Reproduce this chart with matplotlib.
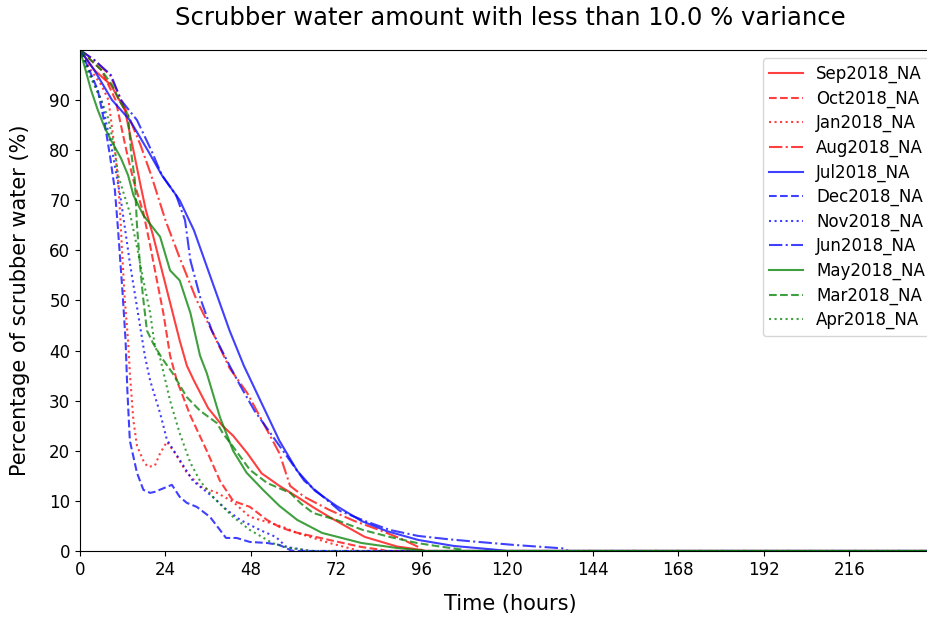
import numpy as np
import matplotlib
matplotlib.use("Agg")
import matplotlib.pyplot as plt

# Hours elapsed and percent of scrubber water still above the variance limit
t_sep = [0, 4, 8.7, 12.6, 15, 17, 18.5, 20.5, 23, 25.5, 28, 30, 32, 36, 40, 43, 47, 51, 56, 61, 66, 70, 75, 80, 89, 96, 97]
p_sep = [100, 96, 93, 88, 80, 73, 68, 63, 56, 49, 42, 37, 34, 28.5, 25, 23, 19.5, 15.5, 13, 10.8, 8.5, 6.8, 4.8, 2.8, 0.9, 0.2, 0]

t_oct = [0, 3, 6, 10, 13, 15, 17.8, 19.7, 21.6, 23.4, 25.3, 27.2, 31, 35.6, 39.3, 43, 47.7, 52.5, 56, 60, 70, 79, 85, 86]
p_oct = [100, 98, 96, 90, 80, 74, 67.5, 61, 54, 47.5, 39, 34, 27, 20, 14, 10, 8.8, 6.2, 4.8, 3.8, 2.2, 0.8, 0.2, 0]

t_jan = [0, 3, 6, 8, 9.8, 10.7, 11.3, 11.8, 12.6, 13.5, 14, 15, 16, 17.8, 19, 21, 22.5, 24.4, 26.7, 30, 34, 38.5, 43, 47.7, 52.5, 57, 61, 70, 77, 78]
p_jan = [100, 96, 93, 90, 80, 74, 67, 60, 50, 42, 35.5, 26, 21, 18, 16.8, 17, 19.5, 21.8, 19.5, 15.6, 12.8, 11.6, 9.8, 6.8, 5.8, 4.8, 3.6, 1.6, 0.3, 0]

t_aug = [0, 4, 8.4, 13.5, 17, 20, 24, 28, 32.8, 37, 42, 47, 50, 53, 56, 59, 63, 70, 77, 84, 90, 95, 96]
p_aug = [100, 98, 95, 87, 81, 75, 66, 58.5, 50, 44, 36.5, 31.5, 27.5, 23.5, 19.5, 13, 10.8, 8.2, 6, 4.2, 2.5, 0.8, 0]

t_jul = [0, 4, 9, 14, 19, 23, 28, 32, 35, 38, 42, 46, 50, 56, 61, 66, 72, 79, 86, 95, 105, 116, 120]
p_jul = [100, 96, 90, 86, 80, 75, 70, 64, 58, 52, 44, 37, 31, 22, 16, 12, 9, 6, 4, 2.2, 1, 0.3, 0]

t_dec = [0, 2, 5, 7, 8.4, 9.8, 10.7, 12, 12.8, 13.3, 14, 16, 17.8, 19.7, 21, 24.4, 25.8, 28, 30, 32.8, 36.5, 39.3, 41, 44, 47.7, 52.5, 56, 59, 60]
p_dec = [100, 97, 92, 85, 79, 72, 64, 51, 42, 32, 22, 15.6, 12.2, 11.6, 11.8, 12.8, 13.2, 10.8, 9.6, 8.8, 6.8, 4.2, 2.6, 2.6, 1.8, 1.6, 1.2, 0.2, 0]

t_nov = [0, 3, 6, 9, 11.5, 12, 14, 16, 18.2, 19.7, 22.5, 24.4, 28, 31.7, 37.3, 41.2, 45, 50.5, 55, 58, 63, 65]
p_nov = [100, 95, 90, 80, 70, 67.5, 57.5, 48.7, 39, 34, 27.5, 22.2, 18.2, 14, 10.8, 8.2, 6.2, 4.2, 2.8, 0.8, 0.2, 0]

t_jun = [0, 4, 8.7, 11.5, 16, 20, 23, 27, 29.5, 31, 34, 37, 42, 45, 49, 53, 58, 63, 68, 73, 80, 87, 95, 104, 112, 122, 130, 136, 137]
p_jun = [100, 98, 95, 90, 86, 80, 75, 71, 66, 58, 50, 44, 37, 33, 28, 24, 19, 14, 11, 8, 6, 4.2, 3, 2.3, 1.8, 1.2, 0.8, 0.5, 0]

t_may = [0, 1.4, 3.1, 5, 7, 8.7, 11.5, 13.5, 15, 17.8, 22.5, 25.3, 28, 31, 33.7, 35.6, 39.3, 43, 46.8, 51.4, 56, 61, 68, 79, 89, 96, 97]
p_may = [100, 96.4, 92, 88, 84.4, 82, 78.4, 75, 71, 67, 62.7, 56, 54, 47.5, 39, 35.5, 26.7, 20, 15.6, 12.2, 9, 6.2, 3.6, 1.6, 0.6, 0.1, 0]

t_mar = [0, 3, 6, 9, 11, 13.5, 14.3, 15.4, 16, 16.8, 17.7, 18.8, 20.5, 23, 26, 30, 33.7, 38.5, 40.1, 43, 47.7, 52.5, 56, 59, 62, 65.4, 72, 79.4, 87, 94.6, 100, 107, 108]
p_mar = [100, 98, 96, 93, 90, 87, 80, 74, 65, 57.5, 50.7, 44, 41.5, 38.5, 35.5, 30.7, 28, 25.5, 23.5, 20.8, 16.2, 13.6, 12.5, 11.6, 9.5, 7.6, 6.2, 4.2, 2.8, 1.6, 1, 0.3, 0]

t_apr = [0, 2, 4, 5.9, 7.9, 9.8, 10.7, 12, 14, 16, 17.8, 19.7, 21, 22.5, 25.3, 28, 31, 33.7, 37.3, 43, 47.7, 54, 58, 64, 65]
p_apr = [100, 96, 93, 90, 86.4, 80, 75, 72, 67.5, 60.7, 54, 47.5, 41, 38.5, 30, 23.5, 17.6, 14, 10.8, 6.8, 4.2, 1.6, 0.7, 0.1, 0]

labels = ["Sep2018_NA", "Oct2018_NA", "Jan2018_NA", "Aug2018_NA",
          "Jul2018_NA", "Dec2018_NA", "Nov2018_NA", "Jun2018_NA",
          "May2018_NA", "Mar2018_NA", "Apr2018_NA"]
times = [t_sep, t_oct, t_jan, t_aug, t_jul, t_dec, t_nov, t_jun, t_may, t_mar, t_apr]
percents = [p_sep, p_oct, p_jan, p_aug, p_jul, p_dec, p_nov, p_jun, p_may, p_mar, p_apr]
colors = ["red"] * 4 + ["blue"] * 4 + ["green"] * 3
styles = ["-", "--", ":", "-."] * 2 + ["-", "--", ":"]

t_end = 241.5

fig = plt.figure(figsize=(9.27, 6.17), dpi=100)
ax = fig.add_axes([0.0863, 0.107, 0.9277, 0.812])

for t, p, c, ls, lab in zip(times, percents, colors, styles, labels):
    # curves sit at zero once all water has settled
    t = np.append(t, t_end)
    p = np.append(p, 0)
    ax.plot(t, p, color=c, linestyle=ls, linewidth=1.5, alpha=0.75, label=lab)

ax.set_xlim(0, t_end)
ax.set_ylim(0, 100)
ax.set_xticks(np.arange(0, 217, 24))
ax.set_yticks(np.arange(0, 91, 10))
ax.tick_params(labelsize=12)

ax.set_title("Scrubber water amount with less than 10.0 % variance", fontsize=17.5, pad=18)
ax.set_xlabel("Time (hours)", fontsize=15, labelpad=11)
ax.set_ylabel("Percentage of scrubber water (%)", fontsize=15, labelpad=14)
ax.legend(loc="upper right", fontsize=12, labelspacing=0.38)

plt.savefig("out.png", dpi=100)
